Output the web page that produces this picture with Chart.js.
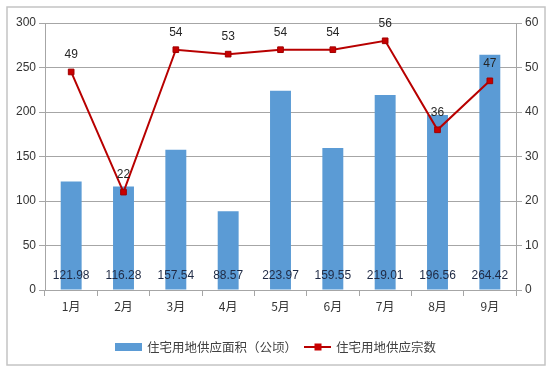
<!DOCTYPE html>
<html><head><meta charset="utf-8">
<script src="https://cdn.jsdelivr.net/npm/chart.js@4/dist/chart.umd.min.js"></script>
<style>html,body{margin:0;padding:0;background:#fff;}#wrap{width:550px;height:373px;position:relative;}</style>
</head><body><div id="wrap"><canvas id="c" width="550" height="373"></canvas></div>
<script>
const categories = ['1月','2月','3月','4月','5月','6月','7月','8月','9月'];
const areaValues = [121.98,116.28,157.54,88.57,223.97,159.55,219.01,196.56,264.42];
const countValues = [49,22,54,53,54,54,56,36,47];
const areaLabel = '住宅用地供应面积（公顷）';
const countLabel = '住宅用地供应宗数';

const FONT = "'Liberation Sans','Noto Sans CJK SC',sans-serif";
const CJK = "'Noto Sans CJK SC','Liberation Sans',sans-serif";
const TXT = '#333333';
const GRID = '#a6a6a6';
const BLUE = '#5b9bd5';
const RED = '#b80000';

const frame = {
  id: 'frame',
  beforeDraw(chart) {
    const ctx = chart.ctx;
    ctx.save();
    ctx.fillStyle = '#fff';
    ctx.fillRect(0,0,chart.width,chart.height);
    ctx.strokeStyle = '#c4c4c4';
    ctx.lineWidth = 1.5;
    ctx.strokeRect(7,7,538,358);
    ctx.restore();
  }
};

const labels = {
  id: 'labels',
  afterDatasetsDraw(chart) {
    const ctx = chart.ctx;
    ctx.save();
    ctx.font = '12px ' + FONT;
    ctx.fillStyle = '#1f2a44';
    ctx.textAlign = 'center';
    ctx.textBaseline = 'middle';
    const bars = chart.getDatasetMeta(0).data;
    const base = chart.scales.y.getPixelForValue(0);
    bars.forEach((b,i) => ctx.fillText(areaValues[i].toFixed(2), b.x, base - 14));
    const pts = chart.getDatasetMeta(1).data;
    ctx.fillStyle = '#262626';
    pts.forEach((p,i) => ctx.fillText(String(countValues[i]), p.x, p.y - 17));
    ctx.restore();
  },
  afterDraw(chart) {
    const ctx = chart.ctx;
    ctx.save();
    const y = 347;
    ctx.fillStyle = BLUE;
    ctx.fillRect(115, y-4, 27, 8);
    ctx.font = '12.5px ' + CJK;
    ctx.fillStyle = '#404040';
    ctx.textBaseline = 'middle';
    ctx.textAlign = 'left';
    ctx.fillText(areaLabel, 147, y);
    ctx.strokeStyle = RED;
    ctx.lineWidth = 2;
    ctx.beginPath(); ctx.moveTo(304, y); ctx.lineTo(331, y); ctx.stroke();
    ctx.fillStyle = '#c80000';
    ctx.fillRect(314.5, y-3.5, 7, 7);
    ctx.fillStyle = '#404040';
    ctx.fillText(countLabel, 336, y);
    ctx.restore();
  }
};

new Chart(document.getElementById('c'), {
  data: {
    labels: categories,
    datasets: [
      { type: 'bar', label: areaLabel, data: areaValues, backgroundColor: BLUE, yAxisID: 'y',
        categoryPercentage: 1.0, barPercentage: 0.4, order: 2 },
      { type: 'line', label: countLabel, data: countValues, yAxisID: 'y1', borderColor: RED,
        borderWidth: 2, backgroundColor: '#c80000', pointStyle: 'rect', pointRadius: 4,
        pointBorderColor: '#a00000', pointBorderWidth: 1, tension: 0, order: 1 }
    ]
  },
  options: {
    responsive: false,
    animation: false,
    devicePixelRatio: 1,
    layout: { padding: { left: 0, right: 0, top: 23, bottom: 0 } },
    plugins: { legend: { display: false }, tooltip: { enabled: false } },
    scales: {
      x: {
        offset: true,
        grid: { display: true, drawOnChartArea: false, offset: true, color: GRID, tickLength: 6 },
        border: { color: GRID, width: 1 },
        ticks: { font: { size: 12, family: CJK }, color: TXT, padding: 3 },
        afterFit(s) { s.height = 83; }
      },
      y: {
        position: 'left', min: 0, max: 300,
        ticks: { stepSize: 50, font: { size: 12, family: FONT }, color: TXT, padding: 3 },
        grid: { color: GRID, tickLength: 6 },
        border: { color: GRID },
        afterFit(s) { s.width = 45; }
      },
      y1: {
        position: 'right', min: 0, max: 60,
        ticks: { stepSize: 10, font: { size: 12, family: FONT }, color: TXT, padding: 3 },
        grid: { drawOnChartArea: false, color: GRID, tickLength: 6 },
        border: { color: GRID },
        afterFit(s) { s.width = 34; }
      }
    }
  },
  plugins: [frame, labels]
});
</script></body></html>
